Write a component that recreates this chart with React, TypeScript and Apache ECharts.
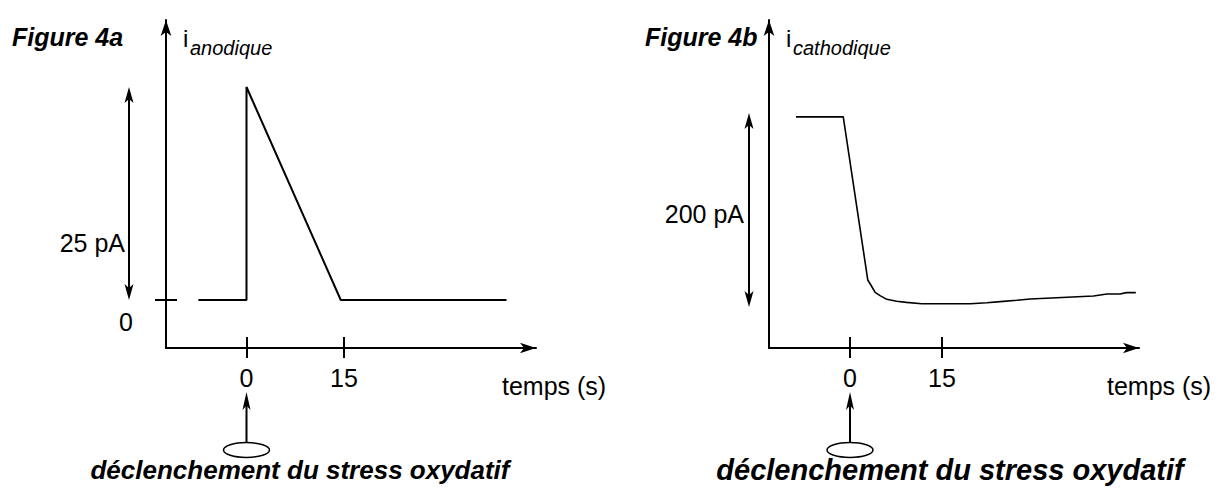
import React, { useEffect, useRef } from "react";
import * as echarts from "echarts";

// ---- data ----
const timeTicks = [0, 15];
const anodeZeroTick = [0];
const anodeZeroLabel = ["0"];

const anodicTime = [-7.4, 0, 0, 14.5, 40];
const anodicCurrent = [0, 0, 25, 0, 0];

const cathodicTime = [-8.8, -1.1, 2.9, 3.4, 4.1, 4.9, 6.0, 7.6, 9.2, 11.7, 14.7, 19.6, 22.3, 24.5, 27.2, 29.4, 33.7, 39.7, 40.8, 41.9, 44.0, 45.1, 46.6];
const cathodicCurrent = [196, 196, 27.8, 22.7, 15.1, 11.7, 7.9, 5.9, 4.8, 3.4, 3.4, 3.4, 4.4, 5.5, 6.9, 8.2, 9.6, 11.3, 12.4, 13.4, 13.4, 14.8, 14.8];

const anodicScaleBar = [0, 25];
const cathodicScaleBar = [0, 200];

const titleA = "Figure 4a";
const titleB = "Figure 4b";
const yNameMain = "i";
const yNameSubA = "anodique";
const yNameSubB = "cathodique";
const scaleLabelA = "25 pA";
const scaleLabelB = "200 pA";
const xName = "temps (s)";
const caption = "déclenchement du stress oxydatif";

const FONT = "'Liberation Sans', Arial, Helvetica, sans-serif";

function xAxes(gridIndex: number, min: number, max: number) {
  return [
    {
      type: "value",
      gridIndex,
      min,
      max,
      position: "bottom",
      axisLine: {
        onZero: false,
        lineStyle: { color: "#000", width: 2 },
        symbol: ["none", "arrow"],
        symbolSize: [8, 16],
      },
      axisTick: { show: true, customValues: timeTicks, length: 10, inside: false, lineStyle: { color: "#000", width: 2 } },
      axisLabel: { show: true, customValues: timeTicks, margin: 17, fontSize: 25, color: "#000", fontFamily: FONT },
      splitLine: { show: false },
    },
    {
      type: "value",
      gridIndex,
      min,
      max,
      position: "bottom",
      axisLine: { show: false, onZero: false },
      axisTick: { show: true, customValues: timeTicks, length: 11, inside: true, lineStyle: { color: "#000", width: 2 } },
      axisLabel: { show: false },
      splitLine: { show: false },
    },
  ];
}

export default function App() {
  const ref = useRef<HTMLDivElement>(null);

  useEffect(() => {
    if (!ref.current) return;
    const chart = echarts.init(ref.current, undefined, { renderer: "svg" });

    const option: any = {
      animation: false,
      backgroundColor: "#fff",
      grid: [
        { left: 166, right: 685, top: 20, bottom: 142 },
        { left: 769, right: 82, top: 20, bottom: 142 },
      ],
      xAxis: [...xAxes(0, -12.385, 44.54), ...xAxes(1, -13.207, 47.12)],
      yAxis: [
        {
          type: "value",
          gridIndex: 0,
          min: -5.634,
          max: 32.86,
          position: "left",
          axisLine: { onZero: false, lineStyle: { color: "#000", width: 2 }, symbol: ["none", "arrow"], symbolSize: [8, 16] },
          axisTick: { show: true, customValues: anodeZeroTick, length: 11, inside: false, lineStyle: { color: "#000", width: 2 } },
          axisLabel: {
            show: true,
            customValues: anodeZeroTick,
            formatter: (v: number) => anodeZeroLabel[anodeZeroTick.indexOf(v)] ?? String(v),
            margin: 33,
            fontSize: 25,
            color: "#000",
            fontFamily: FONT,
            verticalAlign: "top",
            lineHeight: 44,
          },
          splitLine: { show: false },
        },
        {
          type: "value",
          gridIndex: 0,
          min: -5.634,
          max: 32.86,
          position: "left",
          axisLine: { show: false, onZero: false },
          axisTick: { show: true, customValues: anodeZeroTick, length: 11, inside: true, lineStyle: { color: "#000", width: 2 } },
          axisLabel: { show: false },
          splitLine: { show: false },
        },
        {
          type: "value",
          gridIndex: 1,
          min: -42.27,
          max: 295.88,
          position: "left",
          axisLine: { onZero: false, lineStyle: { color: "#000", width: 2 }, symbol: ["none", "arrow"], symbolSize: [8, 16] },
          axisTick: { show: false },
          axisLabel: { show: false },
          splitLine: { show: false },
        },
      ],
      series: [
        {
          type: "line",
          xAxisIndex: 0,
          yAxisIndex: 0,
          data: anodicTime.map((t, i) => [t, anodicCurrent[i]]),
          symbol: "none",
          lineStyle: { color: "#000", width: 2 },
          clip: false,
        },
        {
          type: "line",
          xAxisIndex: 2,
          yAxisIndex: 2,
          data: cathodicTime.map((t, i) => [t, cathodicCurrent[i]]),
          symbol: "none",
          lineStyle: { color: "#000", width: 1.6 },
          clip: false,
        },
      ],
    };
    chart.setOption(option);

    const pA = (x: number, y: number) => chart.convertToPixel({ seriesIndex: 0 }, [x, y]) as number[];
    const pB = (x: number, y: number) => chart.convertToPixel({ seriesIndex: 1 }, [x, y]) as number[];

    const head = (x: number, y: number, dir: number, w = 9, h = 16) => ({
      type: "polygon",
      shape: { points: [[x, y], [x - w / 2, y + dir * h], [x, y + dir * h * 0.75], [x + w / 2, y + dir * h]] },
      style: { fill: "#000" },
      silent: true,
    });
    const doubleArrow = (x: number, yTop: number, yBot: number) => [
      { type: "line", shape: { x1: x, y1: yTop + 8, x2: x, y2: yBot - 8 }, style: { stroke: "#000", lineWidth: 2 } },
      head(x, yTop, 1),
      head(x, yBot, -1),
    ];
    const trigger = (x: number) => [
      { type: "line", shape: { x1: x, y1: 402, x2: x, y2: 442 }, style: { stroke: "#000", lineWidth: 2 } },
      head(x, 392, 1, 8, 18),
      { type: "ellipse", shape: { cx: x, cy: 450, rx: 23, ry: 7.5 }, style: { fill: "none", stroke: "#000", lineWidth: 1.5 } },
    ];
    const text = (t: string, x: number, y: number, size: number, extra: any = {}) => ({
      type: "text",
      style: { text: t, x, y, fill: "#000", fontSize: size, fontFamily: FONT, verticalAlign: "middle", align: "left", ...extra },
    });

    const a0 = pA(0, anodicScaleBar[0]);
    const a25 = pA(0, anodicScaleBar[1]);
    const b0 = pB(0, cathodicScaleBar[0]);
    const b200 = pB(0, cathodicScaleBar[1]);

    const graphic: any[] = [
      ...doubleArrow(129, a25[1], a0[1]),
      text(scaleLabelA, 125, 243, 25, { align: "right" }),
      text(titleA, 12, 37, 25, { fontWeight: "bold", fontStyle: "italic" }),
      text(yNameMain, 183, 38, 24),
      text(yNameSubA, 190, 48, 20, { fontStyle: "italic" }),
      text(xName, 502, 386, 25),
      ...trigger(a0[0]),
      text(caption, 300, 470, 26, { align: "center", fontWeight: "bold", fontStyle: "italic" }),

      ...doubleArrow(749, b200[1], b0[1]),
      text(scaleLabelB, 744, 214, 25, { align: "right" }),
      text(titleB, 645, 37, 25, { fontWeight: "bold", fontStyle: "italic" }),
      text(yNameMain, 786, 38, 24),
      text(yNameSubB, 793, 48, 20, { fontStyle: "italic" }),
      text(xName, 1107, 386, 25),
      ...trigger(b0[0]),
      text(caption, 950, 470, 29, { align: "center", fontWeight: "bold", fontStyle: "italic" }),
    ];
    chart.setOption({ graphic });

    return () => chart.dispose();
  }, []);

  return <div ref={ref} style={{ position: "absolute", left: 0, top: 0, width: 1221, height: 490 }} />;
}
